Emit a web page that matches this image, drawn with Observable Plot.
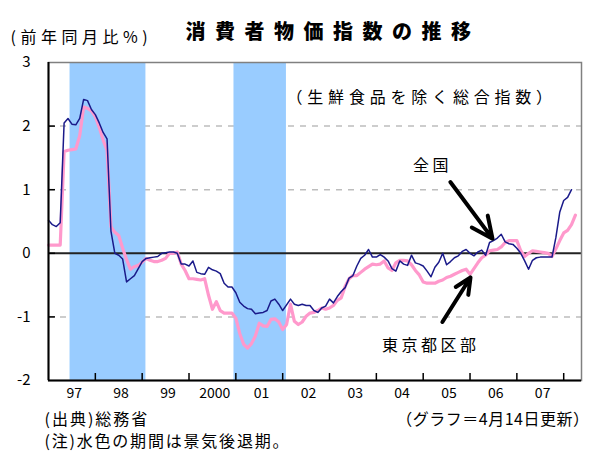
<!DOCTYPE html>
<html><head><meta charset="utf-8">
<script src="https://cdn.jsdelivr.net/npm/d3@7"></script>
<script src="https://cdn.jsdelivr.net/npm/@observablehq/plot@0.6"></script>
<style>body{margin:0;background:#fff} svg{display:block}</style>
</head><body><div id="chart"></div>
<script>
// monthly series, first value = Dec 1996 (t = year + month/12)
const startYear = 1996, startMonth = 12;
const national = [
 0.52,0.45,0.42,0.48,2.05,2.12,2.03,2.02,2.12,2.42,
 2.40,2.26,2.18,2.05,1.90,1.80,0.35,0.00,-0.03,-0.09,
 -0.45,-0.40,-0.35,-0.24,-0.13,-0.08,-0.07,-0.06,-0.05,0.00,
 0.01,0.02,0.02,0.00,-0.17,-0.17,-0.20,-0.12,-0.30,-0.32,
 -0.33,-0.22,-0.26,-0.28,-0.32,-0.47,-0.53,-0.53,-0.62,-0.77,
 -0.83,-0.87,-0.88,-0.95,-0.94,-0.93,-0.90,-0.75,-0.72,-0.80,
 -0.90,-0.81,-0.72,-0.80,-0.82,-0.80,-0.82,-0.82,-0.90,-0.93,
 -0.86,-0.83,-0.72,-0.78,-0.68,-0.60,-0.54,-0.39,-0.35,-0.20,
 -0.08,-0.03,0.06,-0.06,-0.06,-0.02,-0.06,-0.12,-0.24,-0.28,
 -0.12,-0.17,-0.19,-0.03,-0.15,-0.17,-0.20,-0.28,-0.37,-0.22,
 -0.14,0.00,-0.18,-0.13,-0.07,-0.04,0.03,0.06,0.00,-0.04,
 0.02,0.05,-0.03,0.17,0.20,0.24,0.30,0.18,0.15,0.14,
 0.08,0.00,-0.12,-0.25,-0.11,-0.07,-0.06,-0.06,-0.06,-0.06,
 0.25,0.65,0.83,0.88,1.00
];
const tokyo = [
 0.13,0.13,0.13,0.13,1.60,1.62,1.63,1.64,1.85,2.30,
 2.28,2.24,2.15,1.98,1.78,1.62,0.42,0.33,0.28,0.08,
 -0.10,-0.25,-0.21,-0.19,-0.14,-0.08,-0.11,-0.13,-0.13,-0.11,
 -0.08,0.00,0.00,0.02,-0.17,-0.27,-0.40,-0.40,-0.41,-0.42,
 -0.40,-0.66,-0.88,-0.76,-0.90,-0.94,-0.94,-0.94,-1.02,-1.26,
 -1.43,-1.49,-1.42,-1.30,-1.10,-1.14,-1.15,-1.04,-1.03,-1.08,
 -1.20,-1.12,-0.80,-1.07,-1.12,-1.08,-0.99,-0.94,-0.93,-0.90,
 -0.86,-0.88,-0.86,-0.82,-0.74,-0.70,-0.52,-0.40,-0.35,-0.35,
 -0.30,-0.25,-0.21,-0.17,-0.18,-0.17,-0.12,-0.23,-0.27,-0.15,
 -0.11,-0.11,-0.12,-0.18,-0.27,-0.34,-0.45,-0.47,-0.47,-0.47,
 -0.44,-0.42,-0.38,-0.36,-0.33,-0.30,-0.27,-0.25,-0.33,-0.24,
 -0.15,-0.07,-0.03,0.04,0.05,0.06,0.10,0.17,0.20,0.20,
 0.20,0.04,-0.05,0.00,0.04,0.03,0.02,0.01,0.00,-0.05,
 0.07,0.20,0.32,0.36,0.45,0.60
];
// recession periods (decimal years)
const recessionStart = [1997.46, 2000.96];
const recessionEnd = [1999.08, 2002.08];
const yTicks = [-2,-1,0,1,2,3];
const gridValues = [-1,1,2];
const yearBoundaries = [1998,1999,2000,2001,2002,2003,2004,2005,2006,2007,2008];
const yearLabels = ["97","98","99","2000","01","02","03","04","05","06","07"];
const labelYears = [1997,1998,1999,2000,2001,2002,2003,2004,2005,2006,2007];
const seriesNames = ["全国","東京都区部"];
// annotation arrows (data units)
const arrowNotes = [
 {label:"全国", x1:2005.58, y1:1.12, x2:2006.48, y2:0.23, lx:2005.2, ly:1.38},
 {label:"東京都区部", x1:2005.41, y1:-1.08, x2:2006.01, y2:-0.38, lx:2005.16, ly:-1.45}
];

const toT = i => startYear + (startMonth + i) / 12;
const rows = [];
national.forEach((v,i)=>rows.push({t:toT(i), v, s:seriesNames[0]}));
tokyo.forEach((v,i)=>rows.push({t:toT(i), v, s:seriesNames[1]}));
const recessions = recessionStart.map((s,i)=>({x1:s, x2:recessionEnd[i]}));
const labels = labelYears.map((y,i)=>({x:y+0.55, text:yearLabels[i]}));

const FONT = "'Noto Sans CJK JP', 'Noto Sans', sans-serif";
const xDomain = [1997.0, 2008.38];

const chart = Plot.plot({
  width: 597, height: 458,
  marginLeft: 48, marginRight: 16, marginTop: 62, marginBottom: 78,
  style: {fontFamily: FONT, background: "#fff", color: "#000"},
  x: {domain: xDomain, axis: null},
  y: {domain: [-2, 3], axis: null},
  marks: [
    Plot.ruleY(gridValues, {stroke: "#bdbdbd", strokeWidth: 1.5, strokeDasharray: "6,6"}),
    Plot.rectX(recessions, {x1: "x1", x2: "x2", y1: -2, y2: 3, fill: "#99ccff"}),
    Plot.ruleY([0], {stroke: "#222", strokeWidth: 2}),
    Plot.line(rows.filter(d=>d.s===seriesNames[1]), {x:"t", y:"v", stroke:"#ff99cc", strokeWidth:3.2}),
    Plot.line(rows.filter(d=>d.s===seriesNames[0]), {x:"t", y:"v", stroke:"#1a1a8a", strokeWidth:1.5}),
    Plot.frame({stroke: "#808080", strokeWidth: 1.5}),
    Plot.ruleX([xDomain[0]], {stroke: "#000", strokeWidth: 2}),
    Plot.ruleY([-2], {stroke: "#000", strokeWidth: 2}),
    Plot.tickY(yTicks.slice(1,5), {y: d=>d, insetRight: 526, stroke: "#000", strokeWidth: 1.5}),
    Plot.tickX(yearBoundaries, {x: d=>d, insetTop: 311, stroke: "#000", strokeWidth: 1.5}),
    Plot.text(yTicks, {y: d=>d, text: d=>String(d), frameAnchor: "left", dx: -18, textAnchor: "end", fontSize: 15}),
    Plot.text(labels, {x: "x", text: "text", frameAnchor: "bottom", dy: 17, fontSize: 14}),
    Plot.arrow(arrowNotes, {x1:"x1", y1:"y1", x2:"x2", y2:"y2", stroke:"#000", strokeWidth:4, headLength:13, headAngle:50, insetStart:0, insetEnd:0}),
    Plot.text(arrowNotes, {x:"lx", y:"ly", text:"label", fontSize:16, className:"anno"}),
    Plot.text(["消費者物価指数の推移"], {text: d=>d, frameAnchor:"top", dx: 18, dy: -38, fontSize: 20, fontWeight: "900", className:"ttl"}),
    Plot.text(["(前年同月比%)"], {text: d=>d, frameAnchor:"top-left", dx: -38, dy: -31, textAnchor:"start", fontSize: 16, className:"unit"}),
    Plot.text(["（生鮮食品を除く総合指数）"], {text: d=>d, frameAnchor:"top-left", dx: 238, dy: 29, textAnchor:"start", fontSize: 16, className:"note"}),
    Plot.text(["(出典)総務省"], {text: d=>d, frameAnchor:"bottom-left", dx: -4, dy: 44, textAnchor:"start", fontSize: 16, className:"src"}),
    Plot.text(["(注)水色の期間は景気後退期。"], {text: d=>d, frameAnchor:"bottom-left", dx: -4, dy: 66, textAnchor:"start", fontSize: 16, className:"fn"}),
    Plot.text(["（グラフ＝4月14日更新）"], {text: d=>d, frameAnchor:"bottom-right", dx: 8, dy: 44, textAnchor:"end", fontSize: 16, className:"upd"})
  ]
});
document.getElementById("chart").appendChild(chart);
const svg = d3.select(chart);
svg.selectAll(".ttl text").attr("letter-spacing", "9.5px");
svg.selectAll(".unit text").attr("letter-spacing", "4.5px");
svg.selectAll(".note text").attr("letter-spacing", "4.8px");
svg.selectAll(".anno text").attr("letter-spacing", "3.5px");
svg.selectAll(".src text").attr("letter-spacing", "2px");
svg.selectAll(".fn text").attr("letter-spacing", "1.8px");
svg.selectAll(".upd text").attr("letter-spacing", "0.5px");
</script>
</body></html>
